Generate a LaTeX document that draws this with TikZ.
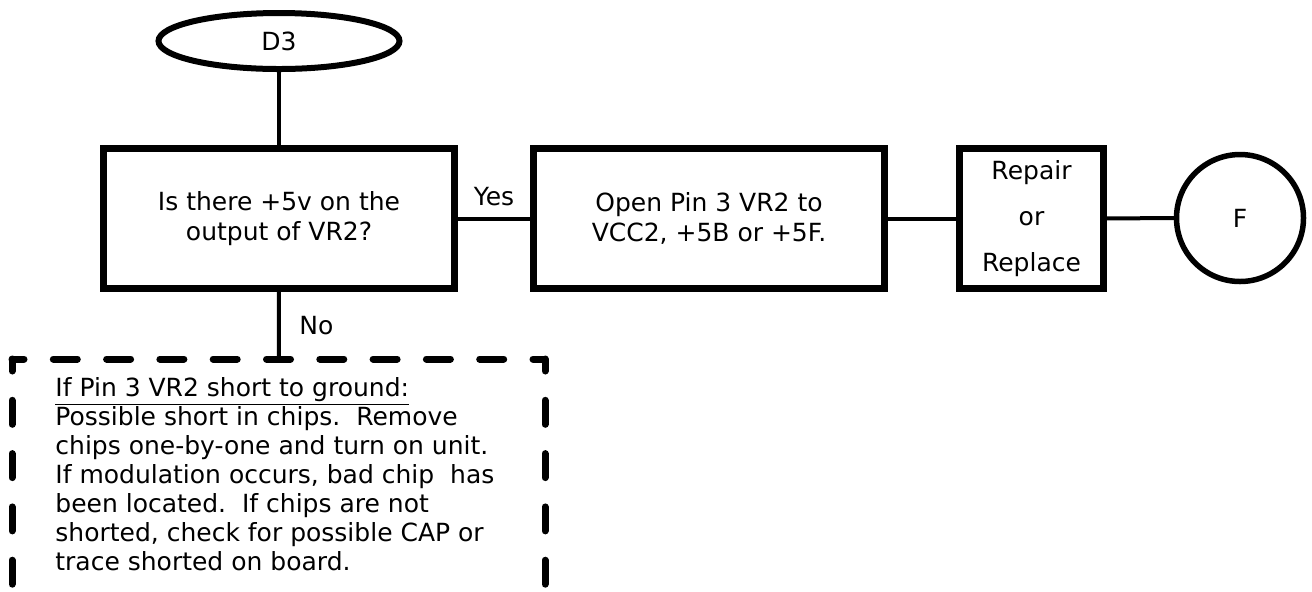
\documentclass[tikz,border=0pt]{standalone}
\usepackage{fontspec}
\setmainfont{DejaVu Sans}
\usetikzlibrary{shapes.geometric}

\tikzset{
  boxfont/.style={font=\fontsize{12.5}{15}\selectfont},
  flowbox/.style={draw, rectangle, line width=3.5pt, minimum width=175.5pt,
    minimum height=70pt, inner sep=0pt, align=center, boxfont},
  terminal/.style={draw, ellipse, line width=3pt, minimum width=120.5pt,
    minimum height=28pt, inner sep=0pt, boxfont},
  exitcircle/.style={draw, circle, line width=2.75pt, minimum size=63.5pt,
    inner sep=0pt, boxfont},
  link/.style={line width=2pt},
  dashframe/.style={line width=3.5pt, line cap=round,
    dash pattern=on 12pt off 14.65pt, dash phase=6pt},
}

\begin{document}
\begin{tikzpicture}[x=0.5pt, y=0.5pt]
\useasboundingbox (0,0) rectangle (1312,-591);
% start terminal and the question
\node[terminal] (d3) at (279,-41) {D3};
\node[flowbox] (ask) at (279,-218.5) {Is there +5v on the\\output of VR2?};
% yes branch
\node[flowbox] (open) at (709,-218.5) {Open Pin 3 VR2 to\\VCC2, +5B or +5F.};
\node[flowbox, minimum width=72pt, font=\fontsize{12.5}{23}\selectfont] (fix) at (1031.5,-218.5) {Repair\\or\\Replace};
\node[exitcircle] (f) at (1240,-218) {F};
% no branch: dashed note, open at the bottom
\node[draw=none, outer sep=0pt, minimum width=266.5pt, minimum height=150pt] (note) at (278.5,-509) {};
\draw[dashframe] (note.north west) -- (note.north east);
\draw[dashframe] (note.north west) -- (note.south west);
\draw[dashframe] (note.north east) -- (note.south east);
\node[anchor=north west, inner sep=0pt, align=left, font=\fontsize{12.5}{14.5}\selectfont] (notetext) at (55,-377)
  {\underline{If Pin 3 VR2 short to ground:}\\
   Possible short in chips.\ \ Remove\\
   chips one-by-one and turn on unit.\\
   If modulation occurs, bad chip\ \ has\\
   been located.\ \ If chips are not\\
   shorted, check for possible CAP or\\
   trace shorted on board.};
% connectors
\draw[link] (d3) -- (ask);
\draw[link] (ask) -- node[above=2pt, boxfont] {Yes} (open);
\draw[link] (open) -- (fix);
\draw[link] (fix) -- (f);
\draw[link] (ask) -- node[right=6pt, boxfont] {No} (note);
\end{tikzpicture}
\end{document}
